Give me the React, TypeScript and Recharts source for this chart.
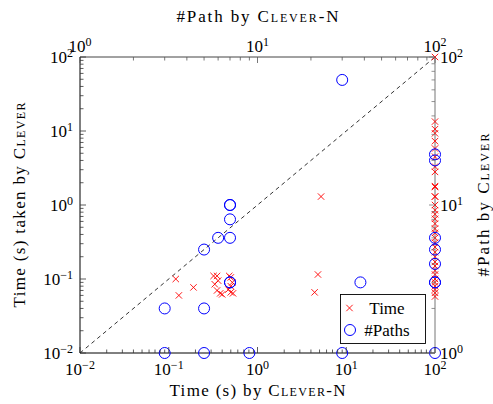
import { ScatterChart, Scatter, XAxis, YAxis, ReferenceLine, Legend } from 'recharts';

// Time (s): CLEVER-N (x) vs CLEVER (y)
const timeCleverN = [0.12, 0.13, 0.19, 0.32, 0.35, 0.33, 0.36, 0.35, 0.38, 0.4, 0.48, 0.5, 0.52, 0.5, 0.47, 0.5, 0.53, 4.4, 4.8, 5.2];
const timeClever = [0.1, 0.06, 0.077, 0.11, 0.11, 0.085, 0.095, 0.07, 0.064, 0.062, 0.11, 0.105, 0.09, 0.08, 0.072, 0.066, 0.064, 0.066, 0.115, 1.3];
// CLEVER-N hit the time limit on these
const timeLimit = 100;
const timeCleverAtLimit = [100, 13.4, 10.6, 9.3, 7.3, 5.8, 4.5, 3.3, 2.8, 1.8, 1.75, 1.3, 1.3, 1.0, 0.85, 0.75, 0.65, 0.56, 0.48, 0.42, 0.36, 0.31, 0.27, 0.23, 0.2, 0.17, 0.15, 0.13, 0.115, 0.1, 0.09, 0.08, 0.072, 0.065, 0.058];

// #Path: CLEVER-N (x) vs CLEVER (y)
const pathCleverN = [3, 3, 5, 5, 9, 30, 100, 5, 6, 7, 7, 7, 7, 7, 7, 38, 30, 100, 100, 100, 100, 100, 100, 100];
const pathClever = [1, 2, 1, 2, 1, 1, 1, 5, 6, 6, 8, 10, 10, 3, 3, 3, 70, 22, 20, 6, 5, 4, 3, 3];

const timeDecades = [0.01, 0.1, 1, 10, 100];
const pathDecades = [1, 10, 100];
const minorSteps = [2, 3, 4, 5, 6, 7, 8, 9];

const withMinor = (decades: number[]) => [
  ...decades,
  ...decades.slice(0, -1).flatMap(d => minorSteps.map(k => +(k * d).toPrecision(3))),
];
const timeTicks = withMinor(timeDecades);
const pathTicks = withMinor(pathDecades);

const timeData = [
  ...timeCleverN.map((x, i) => ({ x, y: timeClever[i] })),
  ...timeCleverAtLimit.map(y => ({ x: timeLimit, y })),
];
const pathData = pathCleverN.map((x, i) => ({ x, y: pathClever[i] }));

const FONT = "'Liberation Serif', 'Times New Roman', serif";
const RED = '#ff0000';
const BLUE = '#0000ff';

const isMajor = (v: number) => Math.abs(Math.log10(v) - Math.round(Math.log10(v))) < 1e-6;
const expOf = (v: number) => {
  const e = Math.round(Math.log10(v));
  return e < 0 ? '\u2212' + -e : String(e);
};

const Pow = ({ x, y, v, anchor }: any) => (
  <text x={x} y={y} textAnchor={anchor} fontFamily={FONT} fontSize={17} fill="#000">
    10<tspan dy={-6} fontSize={12}>{expOf(v)}</tspan>
  </text>
);

const makeTick = (side: 'bottom' | 'top' | 'left' | 'right', color: string) => (p: any) => {
  const { x, y, payload } = p;
  const v = payload.value;
  const major = isMajor(v);
  const len = major ? 6 : 3.5;
  let line;
  let label = null;
  if (side === 'bottom') {
    line = <line x1={x} x2={x} y1={y} y2={y - len} stroke={color} strokeWidth={0.8} />;
    if (major) label = <Pow x={x} y={y + 22} v={v} anchor="middle" />;
  } else if (side === 'top') {
    line = <line x1={x} x2={x} y1={y} y2={y + len} stroke={color} strokeWidth={0.8} />;
    if (major) label = <Pow x={x} y={y - 5} v={v} anchor="middle" />;
  } else if (side === 'left') {
    line = <line x1={x} x2={x + len} y1={y} y2={y} stroke={color} strokeWidth={0.8} />;
    if (major) label = <Pow x={x - 7} y={y + 6} v={v} anchor="end" />;
  } else {
    line = <line x1={x} x2={x - len} y1={y} y2={y} stroke={color} strokeWidth={0.8} />;
    if (major) label = <Pow x={x + 5} y={y + 6} v={v} anchor="start" />;
  }
  return (
    <g>
      {line}
      {label}
    </g>
  );
};

const XMark = ({ cx, cy }: any) => (
  <path d={`M${cx - 3.2},${cy - 3.2}L${cx + 3.2},${cy + 3.2}M${cx - 3.2},${cy + 3.2}L${cx + 3.2},${cy - 3.2}`} stroke={RED} strokeWidth={0.9} fill="none" />
);
const OMark = ({ cx, cy }: any) => <circle cx={cx} cy={cy} r={5.5} stroke={BLUE} strokeWidth={1} fill="none" />;

const LegendBox = () => (
  <svg width={86} height={50} style={{ display: 'block' }}>
    <rect x={0.5} y={0.5} width={85} height={49} fill="#fff" stroke="#000" strokeWidth={0.9} />
    <XMark cx={9.5} cy={14} />
    <text x={47} y={19.5} textAnchor="middle" fontFamily={FONT} fontSize={17}>Time</text>
    <OMark cx={10} cy={36} />
    <text x={47} y={41.5} textAnchor="middle" fontFamily={FONT} fontSize={17}>#Paths</text>
  </svg>
);

const sc = { fontVariant: 'small-caps' as const };

export default function App() {
  return (
    <div style={{ position: 'absolute', left: 0, top: 0, width: 493, height: 404, background: '#fff' }}>
      <ScatterChart width={493} height={404} margin={{ top: 0, right: 0, bottom: 0, left: 0 }}>
        <XAxis
          xAxisId="time" dataKey="x" type="number" scale="log" domain={[0.01, 100]} ticks={timeTicks}
          orientation="bottom" height={51} interval={0} tickSize={0} tickMargin={0}
          axisLine={{ stroke: '#000', strokeWidth: 1 }} tickLine={false} tick={makeTick('bottom', '#333')}
        />
        <XAxis
          xAxisId="path" dataKey="x" type="number" scale="log" domain={[1, 100]} ticks={pathTicks}
          orientation="top" height={57} interval={0} tickSize={0} tickMargin={0}
          axisLine={{ stroke: '#444', strokeWidth: 1 }} tickLine={false} tick={makeTick('top', '#555')}
        />
        <YAxis
          yAxisId="time" dataKey="y" type="number" scale="log" domain={[0.01, 100]} ticks={timeTicks}
          orientation="left" width={80} interval={0} tickSize={0} tickMargin={0}
          axisLine={{ stroke: '#000', strokeWidth: 1 }} tickLine={false} tick={makeTick('left', '#333')}
        />
        <YAxis
          yAxisId="path" dataKey="y" type="number" scale="log" domain={[1, 100]} ticks={pathTicks}
          orientation="right" width={58} interval={0} tickSize={0} tickMargin={0}
          axisLine={{ stroke: '#777', strokeWidth: 1 }} tickLine={false} tick={makeTick('right', '#777')}
        />
        <ReferenceLine
          xAxisId="time" yAxisId="time"
          segment={[{ x: 0.01, y: 0.01 }, { x: 100, y: 100 }]}
          stroke="#000" strokeWidth={0.8} strokeDasharray="4 3.5"
        />
        <Scatter
          name="Time" data={timeData} xAxisId="time" yAxisId="time" fill={RED} stroke={RED}
          shape={(p: any) => <XMark {...p} />} activeShape={(p: any) => <XMark {...p} />}
          isAnimationActive={false}
        />
        <Scatter
          name="#Paths" data={pathData} xAxisId="path" yAxisId="path" fill="none" stroke={BLUE}
          shape={(p: any) => <OMark {...p} />} activeShape={(p: any) => <OMark {...p} />}
          isAnimationActive={false}
        />
        <Legend
          layout="vertical" align="center" verticalAlign="middle"
          wrapperStyle={{ left: 340, top: 294, width: 86, height: 50 }}
          content={() => <LegendBox />}
        />
      </ScatterChart>
      <svg width={493} height={404} style={{ position: 'absolute', left: 0, top: 0, pointerEvents: 'none' }}>
        <g fontFamily={FONT} fontSize={17} fill="#000">
          <text x={257.5} y={22} textAnchor="middle" textLength={162} lengthAdjust="spacing">
            #Path by <tspan style={sc}>Clever-N</tspan>
          </text>
          <text x={257.5} y={396} textAnchor="middle" textLength={176} lengthAdjust="spacing">
            Time (s) by <tspan style={sc}>Clever-N</tspan>
          </text>
          <text transform="translate(25,205) rotate(-90)" textAnchor="middle" textLength={205} lengthAdjust="spacing">
            Time (s) taken by <tspan style={sc}>Clever</tspan>
          </text>
          <text transform="translate(489,205) rotate(-90)" textAnchor="middle" textLength={143} lengthAdjust="spacing">
            #Path by <tspan style={sc}>Clever</tspan>
          </text>
        </g>
      </svg>
    </div>
  );
}
